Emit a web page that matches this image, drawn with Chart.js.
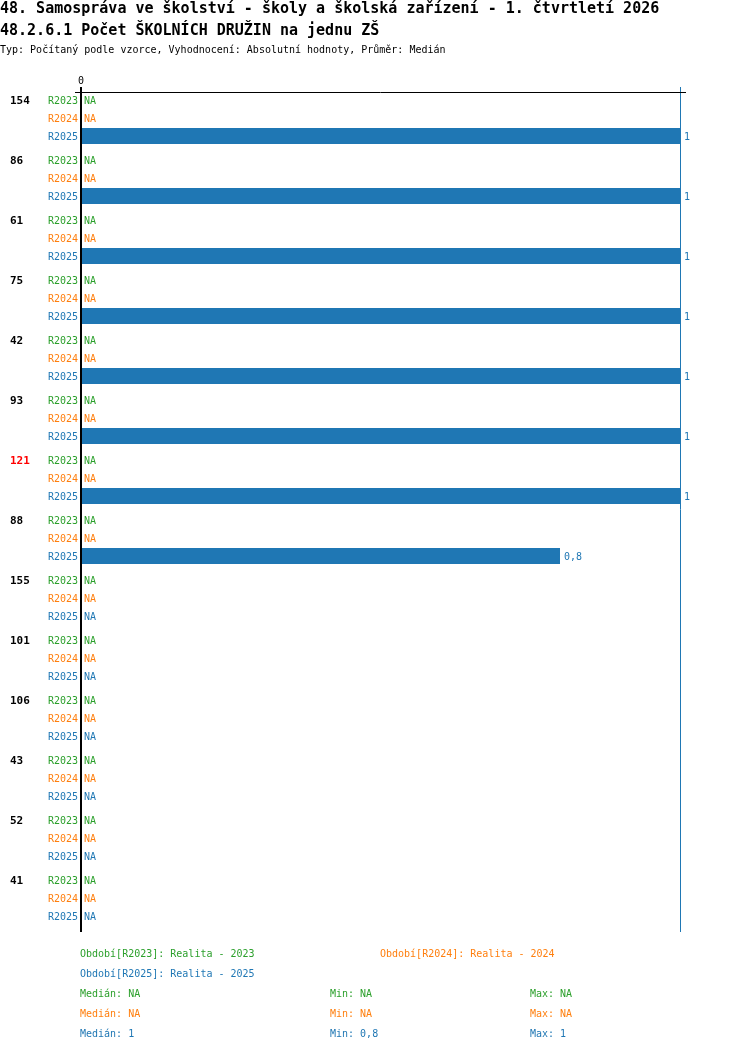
<!DOCTYPE html>
<html lang="cs">
<head>
    <meta charset="UTF-8">
    <title>Počet ŠKOLNÍCH DRUŽIN na jednu ZŠ</title>
    <script src="https://cdn.jsdelivr.net/npm/chart.js"></script>
    <style>
        body { margin: 0; background: #fff; font-family: "DejaVu Sans Mono", monospace; }
        #page { position: relative; width: 750px; height: 1052px; overflow: hidden; }
        #chart { position: absolute; left: 0; top: 0; }
        .t { position: absolute; white-space: pre; line-height: 1; }
        .h1 { font-size: 15px; font-weight: bold; left: 0; }
        .sub { font-size: 10px; left: 0; }
        .f { font-size: 10px; }
        .g { color: #2ca02c; }
        .o { color: #ff7f0e; }
        .b { color: #1f77b4; }
    </style>
</head>
<body>
<div id="page">
    <canvas id="chart" width="750" height="1052"></canvas>
    <div class="t h1" style="top:1px">48. Samospráva ve školství - školy a školská zařízení - 1. čtvrtletí 2026</div>
    <div class="t h1" style="top:23px">48.2.6.1 Počet ŠKOLNÍCH DRUŽIN na jednu ZŠ</div>
    <div class="t sub" style="top:45px">Typ: Počítaný podle vzorce, Vyhodnocení: Absolutní hodnoty, Průměr: Medián</div>

    <div class="t f g" style="left:80px;top:949px">Období[R2023]: Realita - 2023</div>
    <div class="t f o" style="left:380px;top:949px">Období[R2024]: Realita - 2024</div>
    <div class="t f b" style="left:80px;top:969px">Období[R2025]: Realita - 2025</div>

    <div class="t f g" style="left:80px;top:989px">Medián: NA</div>
    <div class="t f g" style="left:330px;top:989px">Min: NA</div>
    <div class="t f g" style="left:530px;top:989px">Max: NA</div>
    <div class="t f o" style="left:80px;top:1009px">Medián: NA</div>
    <div class="t f o" style="left:330px;top:1009px">Min: NA</div>
    <div class="t f o" style="left:530px;top:1009px">Max: NA</div>
    <div class="t f b" style="left:80px;top:1029px">Medián: 1</div>
    <div class="t f b" style="left:330px;top:1029px">Min: 0,8</div>
    <div class="t f b" style="left:530px;top:1029px">Max: 1</div>
</div>

<script>
    // group labels (left side), the red one is highlighted
    const groups = ['154', '86', '61', '75', '42', '93', '121', '88', '155', '101', '106', '43', '52', '41'];
    const highlighted = '121';

    const seriesNames = ['R2023', 'R2024', 'R2025'];
    const seriesColors = ['#2ca02c', '#ff7f0e', '#1f77b4'];

    const r2023 = [null, null, null, null, null, null, null, null, null, null, null, null, null, null];
    const r2024 = [null, null, null, null, null, null, null, null, null, null, null, null, null, null];
    const r2025 = [1, 1, 1, 1, 1, 1, 1, 0.8, null, null, null, null, null, null];

    const medianR2025 = 1;

    const FONT = '"DejaVu Sans Mono", monospace';

    function fmt(v) {
        return String(v).replace('.', ',');
    }

    const overlay = {
        id: 'overlay',
        afterDatasetsDraw(chart) {
            const ctx = chart.ctx;
            const xs = chart.scales.x;
            const area = chart.chartArea;
            const x0 = xs.getPixelForValue(0);

            ctx.save();
            ctx.textBaseline = 'middle';

            chart.data.datasets.forEach((ds, di) => {
                const meta = chart.getDatasetMeta(di);
                meta.data.forEach((bar, i) => {
                    const y = bar.y;
                    // series label left of the axis
                    ctx.font = '10px ' + FONT;
                    ctx.fillStyle = seriesColors[di];
                    ctx.textAlign = 'right';
                    ctx.fillText(seriesNames[di], x0 - 2, y + 1);
                    // value or NA
                    ctx.textAlign = 'left';
                    const v = ds.data[i];
                    if (v === null) {
                        ctx.fillText('NA', x0 + 4, y + 1);
                    } else {
                        ctx.fillText(fmt(v), xs.getPixelForValue(v) + 4, y + 1);
                    }
                    // group label
                    if (di === 0) {
                        ctx.font = 'bold 11px ' + FONT;
                        ctx.fillStyle = groups[i] === highlighted ? '#ff0000' : '#000';
                        ctx.fillText(groups[i], 10, y + 1);
                    }
                });
            });

            // median line
            const xm = xs.getPixelForValue(medianR2025);
            ctx.strokeStyle = '#1f77b4';
            ctx.lineWidth = 1;
            ctx.beginPath();
            ctx.moveTo(xm + 0.5, area.top - 1);
            ctx.lineTo(xm + 0.5, area.bottom + 4);
            ctx.stroke();

            // top line
            ctx.strokeStyle = '#000';
            ctx.beginPath();
            ctx.moveTo(x0 - 5, area.top + 4.5);
            ctx.lineTo(xm + 6, area.top + 4.5);
            ctx.stroke();

            // zero axis
            ctx.lineWidth = 2;
            ctx.beginPath();
            ctx.moveTo(x0 + 1, area.top - 1);
            ctx.lineTo(x0 + 1, area.bottom + 4);
            ctx.stroke();

            ctx.font = '10px ' + FONT;
            ctx.fillStyle = '#000';
            ctx.textAlign = 'center';
            ctx.fillText('0', x0 + 1, area.top - 7);
            ctx.restore();
        }
    };

    new Chart(document.getElementById('chart').getContext('2d'), {
        type: 'bar',
        data: {
            labels: groups,
            datasets: [
                { label: 'R2023', data: r2023, backgroundColor: seriesColors[0] },
                { label: 'R2024', data: r2024, backgroundColor: seriesColors[1] },
                { label: 'R2025', data: r2025, backgroundColor: seriesColors[2] }
            ]
        },
        options: {
            indexAxis: 'y',
            responsive: false,
            animation: false,
            devicePixelRatio: 1,
            layout: { padding: { left: 80, right: 70, top: 88, bottom: 124 } },
            datasets: {
                bar: { categoryPercentage: 0.9, barPercentage: 0.89, borderWidth: 0 }
            },
            scales: {
                x: { display: false, min: 0, max: 1 },
                y: { display: false }
            },
            plugins: {
                legend: { display: false },
                tooltip: { enabled: false }
            }
        },
        plugins: [overlay]
    });
</script>
</body>
</html>
